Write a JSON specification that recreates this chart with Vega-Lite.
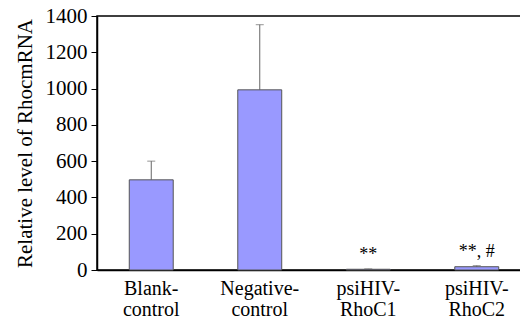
{
  "$schema": "https://vega.github.io/schema/vega-lite/v6.json",
  "autosize": {"type": "none"},
  "padding": {"left": 97, "top": 16, "right": 0, "bottom": 51},
  "width": 434,
  "height": 254,
  "background": "white",
  "config": {
    "font": "'Liberation Serif', 'DejaVu Serif', serif",
    "view": {"stroke": "black", "strokeWidth": 1.5}
  },
  "data": {
    "values": [
      {"group": "Blank-control", "value": 497, "upper": 600, "sig": ""},
      {"group": "Negative-control", "value": 993, "upper": 1352, "sig": ""},
      {"group": "psiHIV-RhoC1", "value": 4, "upper": 6, "sig": "**"},
      {"group": "psiHIV-RhoC2", "value": 18, "upper": 24, "sig": "**, #"}
    ]
  },
  "encoding": {
    "x": {
      "field": "group",
      "type": "nominal",
      "sort": null,
      "scale": {"paddingInner": 0.595, "paddingOuter": 0.2975},
      "axis": {
        "title": null,
        "labelAngle": 0,
        "labelFontSize": 20,
        "labelColor": "black",
        "labelPadding": 8,
        "labelLineHeight": 21,
        "ticks": false,
        "domainColor": "black",
        "domainWidth": 1.5,
        "labelExpr": "[slice(datum.label, 0, indexof(datum.label, '-') + 1), slice(datum.label, indexof(datum.label, '-') + 1)]"
      }
    },
    "y": {
      "field": "value",
      "type": "quantitative",
      "scale": {"domain": [0, 1400], "nice": false},
      "axis": {
        "title": "Relative level of RhocmRNA",
        "titleFontSize": 21,
        "titleFontWeight": "normal",
        "titleColor": "black",
        "titlePadding": 10,
        "values": [0, 200, 400, 600, 800, 1000, 1200, 1400],
        "format": "d",
        "labelFontSize": 21,
        "labelColor": "black",
        "labelPadding": 4,
        "tickSize": 6,
        "tickColor": "black",
        "domainColor": "black",
        "domainWidth": 1.5,
        "grid": false
      }
    }
  },
  "layer": [
    {
      "mark": {"type": "rule", "color": "#666666", "strokeWidth": 1},
      "encoding": {
        "y2": {"field": "upper"}
      }
    },
    {
      "mark": {"type": "tick", "color": "#666666", "thickness": 1, "size": 8},
      "encoding": {
        "y": {"field": "upper", "type": "quantitative"}
      }
    },
    {
      "mark": {"type": "bar", "fill": "#9999ff", "stroke": "#555555", "strokeWidth": 1}
    },
    {
      "mark": {"type": "text", "fontSize": 18, "color": "black", "baseline": "alphabetic", "dy": -9},
      "encoding": {
        "y": {"field": "upper", "type": "quantitative"},
        "text": {"field": "sig"}
      }
    }
  ]
}
